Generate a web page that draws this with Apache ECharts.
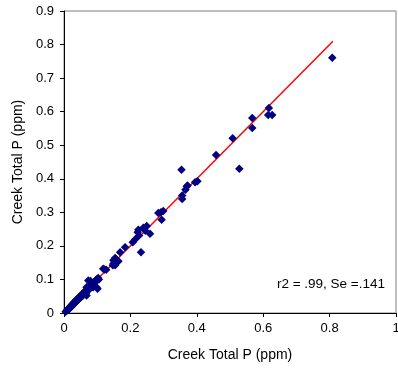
<!DOCTYPE html>
<html>
<head>
<meta charset="utf-8">
<script src="https://cdn.jsdelivr.net/npm/echarts@6/dist/echarts.min.js"></script>
<style>html,body{margin:0;padding:0;background:#fff}#c{width:398px;height:370px}</style>
</head>
<body>
<div id="c"></div>
<script>
var xTicks = [0, 0.2, 0.4, 0.6, 0.8, 1];
var yTicks = [0, 0.1, 0.2, 0.3, 0.4, 0.5, 0.6, 0.7, 0.8, 0.9];
var points = [
[0.005,0.004],[0.008,0.007],[0.010,0.010],[0.012,0.009],[0.013,0.013],[0.015,0.012],[0.016,0.016],[0.018,0.015],[0.019,0.020],[0.020,0.018],
[0.022,0.021],[0.023,0.019],[0.024,0.024],[0.025,0.022],[0.026,0.027],[0.027,0.025],[0.028,0.029],[0.029,0.026],[0.030,0.031],[0.031,0.028],
[0.032,0.033],[0.033,0.030],[0.034,0.035],[0.035,0.032],[0.036,0.037],[0.037,0.034],[0.038,0.039],[0.039,0.036],[0.040,0.041],[0.041,0.038],
[0.042,0.043],[0.043,0.040],[0.044,0.045],[0.045,0.042],[0.046,0.047],[0.047,0.044],[0.048,0.050],[0.050,0.046],[0.051,0.052],[0.053,0.049],
[0.054,0.055],[0.055,0.051],[0.057,0.058],[0.058,0.054],[0.060,0.062],[0.061,0.057],[0.063,0.060],[0.065,0.066],[0.066,0.059],[0.068,0.052],
[0.068,0.077],[0.070,0.065],[0.072,0.070],[0.073,0.097],[0.075,0.074],[0.078,0.072],[0.080,0.095],[0.082,0.080],[0.083,0.085],[0.085,0.078],
[0.087,0.088],[0.088,0.077],[0.090,0.092],[0.092,0.090],[0.095,0.096],[0.097,0.098],[0.098,0.077],[0.100,0.101],[0.101,0.072],[0.103,0.104],
[0.105,0.100],
[0.118,0.132],[0.122,0.130],[0.127,0.129],[0.147,0.142],[0.149,0.147],[0.149,0.157],[0.152,0.150],[0.154,0.164],[0.154,0.142],[0.157,0.160],
[0.159,0.157],[0.164,0.154],[0.169,0.181],[0.184,0.196],[0.207,0.211],[0.214,0.219],[0.222,0.241],[0.224,0.248],[0.226,0.231],[0.232,0.181],
[0.239,0.254],[0.249,0.259],[0.245,0.245],[0.259,0.236],[0.284,0.298],[0.299,0.304],[0.294,0.278],[0.292,0.300],
[0.354,0.427],[0.356,0.340],[0.356,0.350],[0.366,0.367],[0.370,0.377],[0.372,0.380],[0.395,0.390],[0.402,0.393],
[0.458,0.471],[0.508,0.521],[0.528,0.430],[0.567,0.581],[0.567,0.551],[0.617,0.611],[0.615,0.590],[0.627,0.590],[0.808,0.761]
];
var fitLine = [[0.005,0.005],[0.81,0.81]];
var annotation = 'r2 = .99, Se =.141';
var axisTitle = 'Creek Total P (ppm)';

var chart = echarts.init(document.getElementById('c'));
var font = 'Liberation Sans, Arial, sans-serif';
chart.setOption({
  animation: false,
  grid: {left: 64, right: 2, top: 11, bottom: 57, show: true, borderColor: '#808080', borderWidth: 1,
         containLabel: false, outerBoundsMode: 'none'},
  xAxis: {
    type: 'value', min: 0, max: 1, interval: 0.2,
    name: axisTitle, nameLocation: 'middle', nameGap: 35,
    nameTextStyle: {fontFamily: font, fontSize: 14, color: '#000'},
    axisLine: {show: true, onZero: false, lineStyle: {color: '#000', width: 1}},
    axisTick: {show: true, inside: false, length: 4, lineStyle: {color: '#000'}},
    axisLabel: {margin: 9, fontFamily: font, fontSize: 13, color: '#000', hideOverlap: false,
      formatter: function(v){ var t = xTicks.find(function(a){return Math.abs(a-v)<1e-9;}); return t===undefined? '' : String(t); }},
    splitLine: {show: false}
  },
  yAxis: {
    type: 'value', min: 0, max: 0.9, interval: 0.1,
    name: axisTitle, nameLocation: 'middle', nameGap: 35, nameRotate: 90,
    nameTextStyle: {fontFamily: font, fontSize: 14, color: '#000'},
    axisLine: {show: true, onZero: false, lineStyle: {color: '#000', width: 1}},
    axisTick: {show: true, inside: false, length: 4, lineStyle: {color: '#000'}},
    axisLabel: {margin: 10, fontFamily: font, fontSize: 13, color: '#000',
      formatter: function(v){ var t = yTicks.find(function(a){return Math.abs(a-v)<1e-9;}); return t===undefined? '' : String(t); }},
    splitLine: {show: false}
  },
  series: [
    {type: 'line', data: fitLine, showSymbol: false, symbol: 'none', lineStyle: {color: '#ff0000', width: 1.5}, z: 2},
    {type: 'scatter', data: points, symbol: 'diamond', symbolSize: 8.5, itemStyle: {color: '#000080', opacity: 1}, z: 3}
  ],
  graphic: [{type: 'text', right: 13, top: 277, style: {text: annotation, fontFamily: font, fontSize: 13.5, fill: '#000', textAlign: 'right'}}]
});
</script>
</body>
</html>
